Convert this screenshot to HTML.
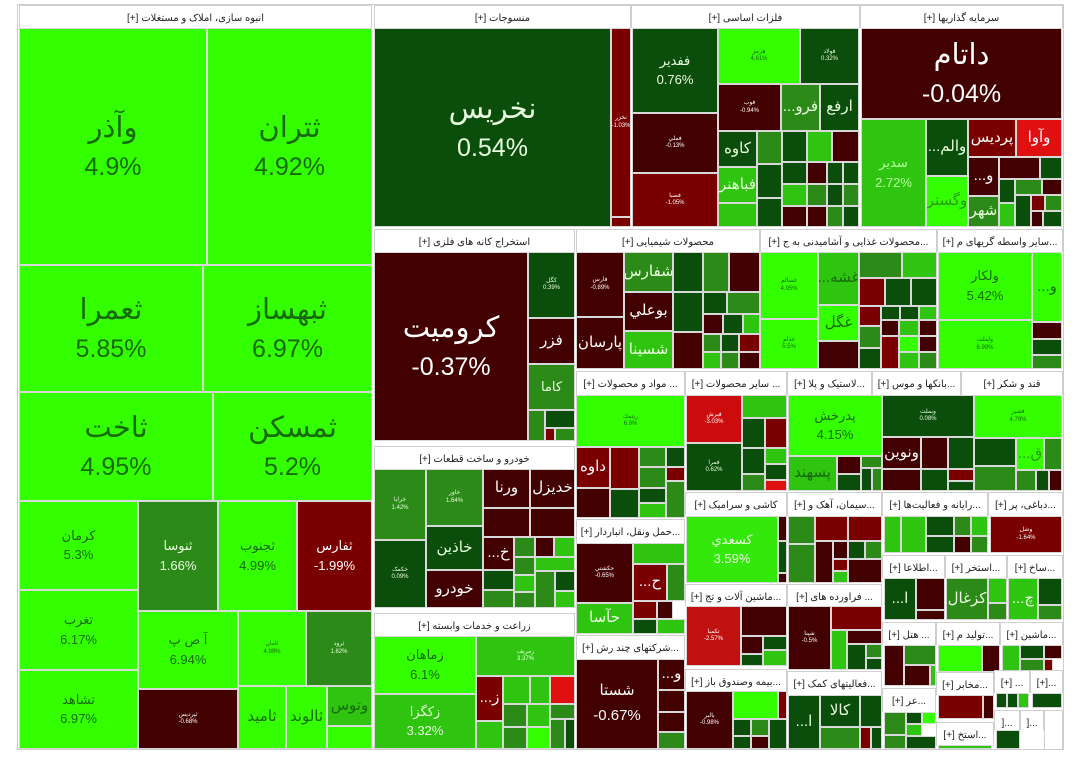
<!DOCTYPE html>
<html><head><meta charset="utf-8"><style>
body{margin:0;width:1080px;height:778px;background:#fff;position:relative;overflow:hidden;font-family:"Liberation Sans","DejaVu Sans",sans-serif}
i,h{position:absolute;box-sizing:border-box;font-style:normal;overflow:hidden}
i{border:1px solid #d8d8d8;display:flex;flex-direction:column;align-items:center;justify-content:center;text-align:center;line-height:1.25}
h{background:#fff;border:1px solid #cfcfcf;border-bottom:none;font-size:10px;color:#222;text-align:center;white-space:nowrap;padding-top:7px;font-weight:normal;direction:rtl}
.b{background:#33ff00;color:#176a0a}
.g{background:#2ec40f;color:#eaffe0}
.m{background:#2b8a18;color:#eaffe0}
.d{background:#0b4d0b;color:#eaffe0}
.x{background:#430000;color:#fff}
.r{background:#7a0000;color:#fff}
.rr{background:#e01010;color:#fff}
.L{font-size:29px}.L b{font-weight:normal;font-size:25px;margin-top:6px}
.M{font-size:13px}.M b{font-weight:normal;font-size:13px;margin-top:3px}
.S{font-size:6px}.S b{font-weight:normal;font-size:6px}
.N{font-size:15px}
</style></head><body>
<div style="position:absolute;left:17px;top:4px;width:1047px;height:746px;border:1px solid #ccc;box-sizing:border-box"></div>

<!-- left sector -->
<h style="left:19px;top:5px;width:353px;height:23px">انبوه سازی، املاک و مستغلات [+]</h>
<i class="b L" style="left:19px;top:28px;width:188px;height:237px">وآذر<b>4.9%</b></i>
<i class="b L" style="left:207px;top:28px;width:165px;height:237px">ثتران<b>4.92%</b></i>
<i class="b L" style="left:19px;top:265px;width:184px;height:127px">ثعمرا<b>5.85%</b></i>
<i class="b L" style="left:203px;top:265px;width:169px;height:127px">ثبهساز<b>6.97%</b></i>
<i class="b L" style="left:19px;top:392px;width:194px;height:109px">ثاخت<b>4.95%</b></i>
<i class="b L" style="left:213px;top:392px;width:159px;height:109px">ثمسکن<b>5.2%</b></i>
<i class="b M" style="left:19px;top:501px;width:119px;height:89px">کرمان<b>5.3%</b></i>
<i class="b M" style="left:19px;top:590px;width:119px;height:80px">تغرب<b>6.17%</b></i>
<i class="b M" style="left:19px;top:670px;width:119px;height:79px">تشاهد<b>6.97%</b></i>
<i class="m M" style="left:138px;top:501px;width:80px;height:110px">ثنوسا<b>1.66%</b></i>
<i class="b M" style="left:218px;top:501px;width:79px;height:110px">ثجنوب<b>4.99%</b></i>
<i class="r M" style="left:297px;top:501px;width:75px;height:110px">ثفارس<b>-1.99%</b></i>
<i class="b M" style="left:138px;top:611px;width:100px;height:78px">آ ص پ<b>6.94%</b></i>
<i class="b S" style="left:238px;top:611px;width:68px;height:75px">ثامان<b>4.99%</b></i>
<i class="m S" style="left:306px;top:611px;width:66px;height:75px">ثرود<b>1.62%</b></i>
<i class="x S" style="left:138px;top:689px;width:100px;height:60px">ثپرديس<b>-0.68%</b></i>
<i class="b N" style="left:238px;top:686px;width:48px;height:63px">ثاميد</i>
<i class="b N" style="left:286px;top:686px;width:41px;height:63px">ثالوند</i>
<i class="g N" style="left:327px;top:686px;width:45px;height:40px;color:#176a0a">وتوس</i>
<i class="b" style="left:327px;top:726px;width:45px;height:23px"></i>

<!-- منسوجات -->
<h style="left:374px;top:5px;width:257px;height:23px">منسوجات [+]</h>
<i class="d L" style="left:374px;top:28px;width:237px;height:199px">نخريس<b>0.54%</b></i>
<i class="r S" style="left:611px;top:28px;width:20px;height:189px">نخزر<b>-1.03%</b></i>
<i class="r" style="left:611px;top:217px;width:20px;height:10px"></i>

<!-- فلزات -->
<h style="left:631px;top:5px;width:229px;height:23px">فلزات اساسی [+]</h>
<i class="d M" style="left:632px;top:28px;width:86px;height:85px">ففدير<b>0.76%</b></i>
<i class="x S" style="left:632px;top:113px;width:86px;height:60px">فملي<b>-0.13%</b></i>
<i class="r S" style="left:632px;top:173px;width:86px;height:54px">فصبا<b>-1.05%</b></i>
<i class="b S" style="left:718px;top:28px;width:82px;height:56px">هرمز<b>4.61%</b></i>
<i class="d S" style="left:800px;top:28px;width:59px;height:56px">فولاد<b>0.32%</b></i>
<i class="x S" style="left:718px;top:84px;width:63px;height:47px">فوب<b>-0.94%</b></i>
<i class="m N" style="left:781px;top:84px;width:39px;height:47px">...فرو</i>
<i class="d N" style="left:820px;top:84px;width:39px;height:47px">ارفع</i>
<i class="d N" style="left:718px;top:131px;width:39px;height:36px">کاوه</i>
<i class="g N" style="left:718px;top:167px;width:39px;height:36px">فباهنر</i>
<i class="g" style="left:718px;top:203px;width:39px;height:24px"></i>
<i class="m" style="left:757px;top:131px;width:25px;height:33px"></i>
<i class="d" style="left:782px;top:131px;width:25px;height:31px"></i>
<i class="g" style="left:807px;top:131px;width:25px;height:31px"></i>
<i class="x" style="left:832px;top:131px;width:27px;height:31px"></i>
<i class="d" style="left:757px;top:164px;width:25px;height:34px"></i>
<i class="d" style="left:757px;top:198px;width:25px;height:29px"></i>
<i class="d" style="left:782px;top:162px;width:25px;height:22px"></i>
<i class="x" style="left:807px;top:162px;width:20px;height:22px"></i>
<i class="d" style="left:827px;top:162px;width:16px;height:22px"></i>
<i class="d" style="left:843px;top:162px;width:16px;height:22px"></i>
<i class="g" style="left:782px;top:184px;width:25px;height:22px"></i>
<i class="x" style="left:782px;top:206px;width:25px;height:21px"></i>
<i class="m" style="left:807px;top:184px;width:20px;height:22px"></i>
<i class="x" style="left:807px;top:206px;width:20px;height:21px"></i>
<i class="d" style="left:827px;top:184px;width:16px;height:22px"></i>
<i class="m" style="left:843px;top:184px;width:16px;height:22px"></i>
<i class="m" style="left:827px;top:206px;width:16px;height:21px"></i>
<i class="d" style="left:843px;top:206px;width:16px;height:21px"></i>

<!-- سرمايه -->
<h style="left:860px;top:5px;width:203px;height:23px">سرمایه گذاریها [+]</h>
<i class="x L" style="left:861px;top:28px;width:201px;height:91px">داتام<b>-0.04%</b></i>
<i class="g M" style="left:861px;top:119px;width:65px;height:108px;color:#b8ffa0">سدير<b>2.72%</b></i>
<i class="d N" style="left:926px;top:119px;width:42px;height:57px">...والم</i>
<i class="b N" style="left:926px;top:176px;width:42px;height:51px;color:#2a9a10">وگستر</i>
<i class="r N" style="left:968px;top:119px;width:48px;height:38px">پرديس</i>
<i class="rr N" style="left:1016px;top:119px;width:46px;height:38px">وآوا</i>
<i class="x N" style="left:968px;top:157px;width:31px;height:39px">...و</i>
<i class="m N" style="left:968px;top:196px;width:31px;height:31px">شهر</i>
<i class="x" style="left:999px;top:157px;width:41px;height:22px"></i>
<i class="d" style="left:1040px;top:157px;width:22px;height:22px"></i>
<i class="d" style="left:999px;top:179px;width:16px;height:24px"></i>
<i class="m" style="left:1015px;top:179px;width:27px;height:16px"></i>
<i class="x" style="left:1042px;top:179px;width:20px;height:16px"></i>
<i class="g" style="left:999px;top:203px;width:16px;height:24px"></i>
<i class="d" style="left:1015px;top:195px;width:16px;height:32px"></i>
<i class="r" style="left:1031px;top:195px;width:14px;height:16px"></i>
<i class="m" style="left:1045px;top:195px;width:17px;height:16px"></i>
<i class="x" style="left:1031px;top:211px;width:12px;height:16px"></i>
<i class="d" style="left:1043px;top:211px;width:19px;height:16px"></i>

<!-- استخراج -->
<h style="left:374px;top:229px;width:201px;height:23px">استخراج کانه های فلزی [+]</h>
<i class="x L" style="left:374px;top:252px;width:154px;height:189px">کرومیت<b>-0.37%</b></i>
<i class="d S" style="left:528px;top:252px;width:47px;height:66px">کگل<b>0.39%</b></i>
<i class="x N" style="left:528px;top:318px;width:47px;height:46px">فزر</i>
<i class="m M" style="left:528px;top:364px;width:47px;height:46px">کاما</i>
<i class="m" style="left:528px;top:410px;width:17px;height:31px"></i>
<i class="d" style="left:545px;top:410px;width:30px;height:18px"></i>
<i class="r" style="left:545px;top:428px;width:10px;height:13px"></i>
<i class="m" style="left:555px;top:428px;width:20px;height:13px"></i>

<!-- خودرو -->
<h style="left:374px;top:446px;width:201px;height:23px">خودرو و ساخت قطعات [+]</h>
<i class="m S" style="left:374px;top:469px;width:52px;height:71px">خرابا<b>1.42%</b></i>
<i class="d S" style="left:374px;top:540px;width:52px;height:68px">خکمک<b>0.09%</b></i>
<i class="m S" style="left:426px;top:469px;width:57px;height:57px">خاور<b>1.64%</b></i>
<i class="d N" style="left:426px;top:526px;width:57px;height:44px">خاذين</i>
<i class="x N" style="left:426px;top:570px;width:57px;height:38px">خودرو</i>
<i class="x N" style="left:483px;top:469px;width:47px;height:39px">ورنا</i>
<i class="x N" style="left:530px;top:469px;width:45px;height:39px">خديزل</i>
<i class="x" style="left:483px;top:508px;width:47px;height:29px"></i>
<i class="x" style="left:530px;top:508px;width:45px;height:29px"></i>
<i class="x N" style="left:483px;top:537px;width:31px;height:33px">...خ</i>
<i class="d" style="left:483px;top:570px;width:31px;height:20px"></i>
<i class="m" style="left:483px;top:590px;width:31px;height:18px"></i>
<i class="m" style="left:514px;top:537px;width:21px;height:20px"></i>
<i class="x" style="left:535px;top:537px;width:19px;height:20px"></i>
<i class="g" style="left:554px;top:537px;width:21px;height:20px"></i>
<i class="m" style="left:514px;top:557px;width:21px;height:18px"></i>
<i class="g" style="left:535px;top:557px;width:40px;height:14px"></i>
<i class="g" style="left:514px;top:575px;width:21px;height:17px"></i>
<i class="m" style="left:535px;top:571px;width:20px;height:37px"></i>
<i class="d" style="left:555px;top:571px;width:20px;height:20px"></i>
<i class="m" style="left:514px;top:592px;width:21px;height:16px"></i>
<i class="g" style="left:555px;top:591px;width:20px;height:17px"></i>

<!-- زراعت -->
<h style="left:374px;top:613px;width:201px;height:23px">زراعت و خدمات وابسته [+]</h>
<i class="b M" style="left:374px;top:636px;width:102px;height:58px">زماهان<b>6.1%</b></i>
<i class="g M" style="left:374px;top:694px;width:102px;height:55px">زکگزا<b>3.32%</b></i>
<i class="g S" style="left:476px;top:636px;width:99px;height:40px">زمريف<b>3.37%</b></i>
<i class="r N" style="left:476px;top:676px;width:27px;height:45px">...ز</i>
<i class="g" style="left:476px;top:721px;width:27px;height:28px"></i>
<i class="g" style="left:503px;top:676px;width:27px;height:28px"></i>
<i class="g" style="left:530px;top:676px;width:20px;height:28px"></i>
<i class="rr" style="left:550px;top:676px;width:25px;height:28px"></i>
<i class="m" style="left:503px;top:704px;width:24px;height:23px"></i>
<i class="g" style="left:527px;top:704px;width:23px;height:23px"></i>
<i class="m" style="left:550px;top:704px;width:25px;height:15px"></i>
<i class="m" style="left:503px;top:727px;width:24px;height:22px"></i>
<i class="b" style="left:527px;top:727px;width:23px;height:22px"></i>
<i class="m" style="left:550px;top:719px;width:15px;height:30px"></i>
<i class="d" style="left:565px;top:719px;width:10px;height:30px"></i>

<!-- شيميايي -->
<h style="left:576px;top:229px;width:184px;height:23px">محصولات شیمیایی [+]</h>
<i class="x S" style="left:576px;top:252px;width:48px;height:65px">فارس<b>-0.89%</b></i>
<i class="x N" style="left:576px;top:317px;width:48px;height:52px">پارسان</i>
<i class="m N" style="left:624px;top:252px;width:49px;height:40px">شفارس</i>
<i class="x N" style="left:624px;top:292px;width:49px;height:39px">بوعلي</i>
<i class="g N" style="left:624px;top:331px;width:49px;height:38px">شسينا</i>
<i class="d" style="left:673px;top:252px;width:30px;height:40px"></i>
<i class="m" style="left:703px;top:252px;width:26px;height:40px"></i>
<i class="x" style="left:729px;top:252px;width:31px;height:40px"></i>
<i class="d" style="left:673px;top:292px;width:30px;height:40px"></i>
<i class="d" style="left:703px;top:292px;width:24px;height:22px"></i>
<i class="m" style="left:727px;top:292px;width:33px;height:22px"></i>
<i class="x" style="left:673px;top:332px;width:30px;height:37px"></i>
<i class="x" style="left:703px;top:314px;width:20px;height:20px"></i>
<i class="d" style="left:723px;top:314px;width:20px;height:20px"></i>
<i class="g" style="left:743px;top:314px;width:17px;height:20px"></i>
<i class="m" style="left:703px;top:334px;width:18px;height:18px"></i>
<i class="d" style="left:721px;top:334px;width:18px;height:18px"></i>
<i class="r" style="left:739px;top:334px;width:21px;height:18px"></i>
<i class="g" style="left:703px;top:352px;width:18px;height:17px"></i>
<i class="m" style="left:721px;top:352px;width:18px;height:17px"></i>
<i class="x" style="left:739px;top:352px;width:21px;height:17px"></i>

<!-- غذايي -->
<h style="left:760px;top:229px;width:177px;height:23px">...محصولات غذایی و آشامیدنی به ج [+]</h>
<i class="b S" style="left:760px;top:252px;width:58px;height:67px">غسالم<b>4.95%</b></i>
<i class="b S" style="left:760px;top:319px;width:58px;height:50px">غدام<b>5.5%</b></i>
<i class="g N" style="left:818px;top:252px;width:41px;height:53px;color:#176a0a">...غشه</i>
<i class="b N" style="left:818px;top:305px;width:41px;height:36px">غگل</i>
<i class="x" style="left:818px;top:341px;width:41px;height:28px"></i>
<i class="m" style="left:859px;top:252px;width:43px;height:26px"></i>
<i class="g" style="left:902px;top:252px;width:35px;height:26px"></i>
<i class="r" style="left:859px;top:278px;width:26px;height:28px"></i>
<i class="d" style="left:885px;top:278px;width:26px;height:28px"></i>
<i class="d" style="left:911px;top:278px;width:26px;height:28px"></i>
<i class="r" style="left:859px;top:306px;width:22px;height:20px"></i>
<i class="d" style="left:881px;top:306px;width:19px;height:14px"></i>
<i class="d" style="left:900px;top:306px;width:19px;height:14px"></i>
<i class="g" style="left:919px;top:306px;width:18px;height:14px"></i>
<i class="m" style="left:859px;top:326px;width:22px;height:22px"></i>
<i class="x" style="left:881px;top:320px;width:18px;height:16px"></i>
<i class="g" style="left:899px;top:320px;width:20px;height:16px"></i>
<i class="x" style="left:919px;top:320px;width:18px;height:16px"></i>
<i class="d" style="left:859px;top:348px;width:22px;height:21px"></i>
<i class="r" style="left:881px;top:336px;width:18px;height:33px"></i>
<i class="b" style="left:899px;top:336px;width:20px;height:16px"></i>
<i class="g" style="left:899px;top:352px;width:20px;height:17px"></i>
<i class="x" style="left:919px;top:336px;width:18px;height:16px"></i>
<i class="m" style="left:919px;top:352px;width:18px;height:17px"></i>

<!-- ساير واسطه -->
<h style="left:937px;top:229px;width:126px;height:23px">...سایر واسطه گریهای م [+]</h>
<i class="b M" style="left:938px;top:252px;width:94px;height:68px">ولکار<b>5.42%</b></i>
<i class="b S" style="left:938px;top:320px;width:94px;height:49px">ولملت<b>6.99%</b></i>
<i class="b N" style="left:1032px;top:252px;width:30px;height:70px">...و</i>
<i class="x" style="left:1032px;top:322px;width:30px;height:17px"></i>
<i class="d" style="left:1032px;top:339px;width:30px;height:16px"></i>
<i class="m" style="left:1032px;top:355px;width:30px;height:14px"></i>

<!-- row 3 -->
<h style="left:576px;top:371px;width:109px;height:24px">... مواد و محصولات [+]</h>
<i class="b S" style="left:576px;top:395px;width:109px;height:52px">ريتمك<b>6.9%</b></i>
<i class="r N" style="left:576px;top:447px;width:34px;height:41px">داوه</i>
<i class="x" style="left:576px;top:488px;width:34px;height:30px"></i>
<i class="r" style="left:610px;top:447px;width:29px;height:42px"></i>
<i class="d" style="left:610px;top:489px;width:29px;height:29px"></i>
<i class="m" style="left:639px;top:447px;width:27px;height:20px"></i>
<i class="d" style="left:666px;top:447px;width:19px;height:20px"></i>
<i class="m" style="left:639px;top:467px;width:27px;height:21px"></i>
<i class="d" style="left:639px;top:488px;width:27px;height:15px"></i>
<i class="r" style="left:666px;top:467px;width:19px;height:14px"></i>
<i class="m" style="left:666px;top:481px;width:19px;height:37px"></i>
<i class="g" style="left:639px;top:503px;width:27px;height:15px"></i>

<h style="left:685px;top:371px;width:102px;height:24px">... سایر محصولات [+]</h>
<i class="rr S" style="left:686px;top:395px;width:56px;height:48px;background:#cc0c0c">فبرش<b>-3.03%</b></i>
<i class="d S" style="left:686px;top:443px;width:56px;height:48px">فمرا<b>0.62%</b></i>
<i class="g" style="left:742px;top:395px;width:45px;height:23px"></i>
<i class="d" style="left:742px;top:418px;width:23px;height:30px"></i>
<i class="r" style="left:765px;top:418px;width:22px;height:30px"></i>
<i class="d" style="left:742px;top:448px;width:23px;height:26px"></i>
<i class="g" style="left:765px;top:448px;width:22px;height:16px"></i>
<i class="m" style="left:742px;top:474px;width:23px;height:17px"></i>
<i class="d" style="left:765px;top:464px;width:22px;height:16px"></i>
<i class="rr" style="left:765px;top:480px;width:22px;height:11px"></i>

<h style="left:787px;top:371px;width:85px;height:24px">...لاستیک و پلا [+]</h>
<i class="b M" style="left:788px;top:395px;width:94px;height:61px">پدرخش<b>4.15%</b></i>
<i class="g N" style="left:788px;top:456px;width:49px;height:35px;color:#176a0a">پسهند</i>
<i class="x" style="left:837px;top:456px;width:24px;height:18px"></i>
<i class="m" style="left:861px;top:456px;width:21px;height:12px"></i>
<i class="d" style="left:837px;top:474px;width:24px;height:17px"></i>
<i class="d" style="left:861px;top:468px;width:11px;height:23px"></i>
<i class="m" style="left:872px;top:468px;width:10px;height:23px"></i>

<h style="left:872px;top:371px;width:89px;height:24px">...بانکها و موس [+]</h>
<i class="d S" style="left:882px;top:395px;width:92px;height:42px">وبملت<b>0.08%</b></i>
<i class="x N" style="left:882px;top:437px;width:39px;height:32px">ونوين</i>
<i class="x" style="left:921px;top:437px;width:27px;height:32px"></i>
<i class="d" style="left:948px;top:437px;width:26px;height:32px"></i>
<i class="x" style="left:882px;top:469px;width:39px;height:22px"></i>
<i class="d" style="left:921px;top:469px;width:27px;height:22px"></i>
<i class="r" style="left:948px;top:469px;width:26px;height:12px"></i>
<i class="d" style="left:948px;top:481px;width:26px;height:10px"></i>

<h style="left:961px;top:371px;width:102px;height:24px">قند و شکر [+]</h>
<i class="b S" style="left:974px;top:395px;width:88px;height:43px">قشير<b>4.79%</b></i>
<i class="d" style="left:974px;top:438px;width:42px;height:28px"></i>
<i class="b N" style="left:1016px;top:438px;width:28px;height:32px;color:#2a9a10">...ق</i>
<i class="m" style="left:1044px;top:438px;width:18px;height:32px"></i>
<i class="m" style="left:974px;top:466px;width:42px;height:25px"></i>
<i class="m" style="left:1016px;top:470px;width:20px;height:21px"></i>
<i class="d" style="left:1036px;top:470px;width:13px;height:21px"></i>
<i class="x" style="left:1049px;top:470px;width:13px;height:21px"></i>

<!-- حمل -->
<h style="left:576px;top:519px;width:109px;height:24px">...حمل ونقل، انباردار [+]</h>
<i class="x S" style="left:576px;top:543px;width:57px;height:60px">حكشتي<b>-0.65%</b></i>
<i class="g N" style="left:576px;top:603px;width:57px;height:31px">حآسا</i>
<i class="g" style="left:633px;top:543px;width:52px;height:21px"></i>
<i class="r N" style="left:633px;top:564px;width:34px;height:37px">...ح</i>
<i class="m" style="left:667px;top:564px;width:18px;height:37px"></i>
<i class="r" style="left:633px;top:601px;width:24px;height:18px"></i>
<i class="x" style="left:657px;top:601px;width:16px;height:18px"></i>
<i class="d" style="left:633px;top:619px;width:24px;height:15px"></i>
<i class="g" style="left:657px;top:619px;width:28px;height:15px"></i>

<h style="left:576px;top:635px;width:109px;height:24px">...شرکتهای چند رش [+]</h>
<i class="x L" style="left:576px;top:659px;width:82px;height:90px;font-size:15px">شستا<b style="font-size:15px">-0.67%</b></i>
<i class="x N" style="left:658px;top:659px;width:27px;height:31px">...و</i>
<i class="x" style="left:658px;top:690px;width:27px;height:22px"></i>
<i class="x" style="left:658px;top:712px;width:27px;height:20px"></i>
<i class="m" style="left:658px;top:732px;width:27px;height:17px"></i>

<h style="left:685px;top:492px;width:102px;height:24px">کاشی و سرامیک [+]</h>
<i class="g M" style="left:686px;top:516px;width:92px;height:67px;background:#33e80a">کسعدي<b>3.59%</b></i>
<i class="x" style="left:778px;top:516px;width:9px;height:25px"></i>
<i class="d" style="left:778px;top:541px;width:9px;height:32px"></i>
<i class="x" style="left:778px;top:573px;width:9px;height:10px"></i>

<h style="left:685px;top:584px;width:102px;height:22px">...ماشین آلات و تج [+]</h>
<i class="rr S" style="left:686px;top:606px;width:55px;height:60px;background:#c01010">تكمبا<b>-2.57%</b></i>
<i class="x" style="left:741px;top:606px;width:46px;height:30px"></i>
<i class="x" style="left:741px;top:636px;width:22px;height:18px"></i>
<i class="d" style="left:763px;top:636px;width:24px;height:14px"></i>
<i class="g" style="left:763px;top:650px;width:24px;height:16px"></i>
<i class="d" style="left:741px;top:654px;width:22px;height:12px"></i>

<h style="left:685px;top:669px;width:102px;height:22px">...بیمه وصندوق باز [+]</h>
<i class="x S" style="left:686px;top:691px;width:47px;height:58px">بالبر<b>-0.98%</b></i>
<i class="b" style="left:733px;top:691px;width:45px;height:28px"></i>
<i class="r" style="left:778px;top:691px;width:9px;height:28px"></i>
<i class="d" style="left:733px;top:719px;width:18px;height:17px"></i>
<i class="m" style="left:751px;top:719px;width:18px;height:17px"></i>
<i class="d" style="left:733px;top:736px;width:18px;height:13px"></i>
<i class="x" style="left:751px;top:736px;width:18px;height:13px"></i>
<i class="d" style="left:769px;top:719px;width:18px;height:30px"></i>

<h style="left:787px;top:492px;width:95px;height:24px">...سیمان، آهک و [+]</h>
<i class="m" style="left:788px;top:516px;width:27px;height:28px"></i>
<i class="m" style="left:788px;top:544px;width:27px;height:39px"></i>
<i class="r" style="left:815px;top:516px;width:33px;height:25px"></i>
<i class="r" style="left:848px;top:516px;width:34px;height:25px"></i>
<i class="x" style="left:815px;top:541px;width:18px;height:42px"></i>
<i class="x" style="left:833px;top:541px;width:15px;height:18px"></i>
<i class="d" style="left:848px;top:541px;width:17px;height:18px"></i>
<i class="m" style="left:865px;top:541px;width:17px;height:18px"></i>
<i class="r" style="left:833px;top:559px;width:15px;height:12px"></i>
<i class="x" style="left:848px;top:559px;width:34px;height:24px"></i>
<i class="g" style="left:833px;top:571px;width:15px;height:12px"></i>

<h style="left:787px;top:584px;width:95px;height:22px">... فراورده های [+]</h>
<i class="x S" style="left:788px;top:606px;width:43px;height:64px">شپنا<b>-0.5%</b></i>
<i class="r" style="left:831px;top:606px;width:51px;height:24px"></i>
<i class="g" style="left:831px;top:630px;width:16px;height:40px"></i>
<i class="x" style="left:847px;top:630px;width:35px;height:14px"></i>
<i class="d" style="left:847px;top:644px;width:19px;height:26px"></i>
<i class="m" style="left:866px;top:644px;width:16px;height:14px"></i>
<i class="d" style="left:866px;top:658px;width:16px;height:12px"></i>

<h style="left:787px;top:671px;width:95px;height:24px">...فعالیتهای کمک [+]</h>
<i class="d N" style="left:788px;top:695px;width:32px;height:54px">...ا</i>
<i class="d N" style="left:820px;top:695px;width:40px;height:32px">کالا</i>
<i class="d" style="left:860px;top:695px;width:22px;height:32px"></i>
<i class="m" style="left:820px;top:727px;width:40px;height:22px"></i>
<i class="r" style="left:860px;top:727px;width:11px;height:22px"></i>
<i class="d" style="left:871px;top:727px;width:11px;height:22px"></i>

<h style="left:882px;top:492px;width:106px;height:24px">...رایانه و فعالیت‌ها [+]</h>
<i class="g" style="left:884px;top:516px;width:17px;height:37px"></i>
<i class="g" style="left:901px;top:516px;width:25px;height:37px"></i>
<i class="d" style="left:926px;top:516px;width:28px;height:20px"></i>
<i class="m" style="left:954px;top:516px;width:17px;height:20px"></i>
<i class="g" style="left:971px;top:516px;width:17px;height:20px"></i>
<i class="d" style="left:926px;top:536px;width:28px;height:17px"></i>
<i class="x" style="left:954px;top:536px;width:17px;height:17px"></i>
<i class="m" style="left:971px;top:536px;width:17px;height:17px"></i>

<h style="left:988px;top:492px;width:75px;height:24px">...دباغی، پر [+]</h>
<i class="r S" style="left:990px;top:516px;width:72px;height:37px">وشل<b>-1.64%</b></i>

<h style="left:882px;top:555px;width:63px;height:23px">...اطلاعا [+]</h>
<i class="d N" style="left:884px;top:578px;width:32px;height:42px">...ا</i>
<i class="x" style="left:916px;top:578px;width:29px;height:32px"></i>
<i class="x" style="left:916px;top:610px;width:29px;height:10px"></i>
<h style="left:945px;top:555px;width:62px;height:23px">...استخر [+]</h>
<i class="m N" style="left:946px;top:578px;width:42px;height:42px">کزغال</i>
<i class="g" style="left:988px;top:578px;width:19px;height:25px"></i>
<i class="m" style="left:988px;top:603px;width:19px;height:17px"></i>
<h style="left:1007px;top:555px;width:56px;height:23px">...ساخ [+]</h>
<i class="g N" style="left:1008px;top:578px;width:30px;height:42px">...چ</i>
<i class="d" style="left:1038px;top:578px;width:24px;height:27px"></i>
<i class="m" style="left:1038px;top:605px;width:24px;height:15px"></i>

<h style="left:882px;top:622px;width:54px;height:23px">... هتل [+]</h>
<i class="x" style="left:884px;top:645px;width:20px;height:41px"></i>
<i class="m" style="left:904px;top:645px;width:32px;height:20px"></i>
<i class="x" style="left:904px;top:665px;width:26px;height:21px"></i>
<i class="g" style="left:930px;top:665px;width:6px;height:21px"></i>
<h style="left:936px;top:622px;width:64px;height:23px">...تولید م [+]</h>
<i class="b" style="left:938px;top:645px;width:44px;height:27px"></i>
<i class="x" style="left:982px;top:645px;width:18px;height:27px"></i>
<h style="left:1000px;top:622px;width:63px;height:23px">...ماشین [+]</h>
<i class="g" style="left:1002px;top:645px;width:18px;height:27px"></i>
<i class="d" style="left:1020px;top:645px;width:24px;height:14px"></i>
<i class="x" style="left:1044px;top:645px;width:18px;height:14px"></i>
<i class="m" style="left:1020px;top:659px;width:24px;height:13px"></i>
<i class="r" style="left:1044px;top:659px;width:9px;height:13px"></i>

<h style="left:882px;top:688px;width:54px;height:24px">...عر [+]</h>
<i class="m" style="left:884px;top:712px;width:22px;height:23px"></i>
<i class="d" style="left:906px;top:712px;width:16px;height:12px"></i>
<i class="b" style="left:922px;top:712px;width:14px;height:12px"></i>
<i class="m" style="left:884px;top:735px;width:22px;height:14px"></i>
<i class="g" style="left:906px;top:724px;width:16px;height:12px"></i>
<i class="d" style="left:906px;top:736px;width:30px;height:13px"></i>
<h style="left:936px;top:672px;width:58px;height:23px">...مخابر [+]</h>
<i class="r" style="left:938px;top:695px;width:45px;height:24px"></i>
<i class="x" style="left:983px;top:695px;width:11px;height:24px"></i>
<h style="left:936px;top:722px;width:58px;height:24px">...استخ [+]</h>
<i class="g" style="left:938px;top:745px;width:54px;height:4px"></i>
<h style="left:994px;top:670px;width:36px;height:23px">... [+]</h>
<i class="d" style="left:996px;top:693px;width:11px;height:15px"></i>
<i class="d" style="left:1007px;top:693px;width:11px;height:15px"></i>
<i class="g" style="left:1018px;top:693px;width:11px;height:15px"></i>
<h style="left:1030px;top:670px;width:33px;height:23px">...[+]</h>
<i class="d" style="left:1032px;top:693px;width:30px;height:15px"></i>
<h style="left:994px;top:710px;width:26px;height:20px">...[</h>
<i class="d" style="left:996px;top:730px;width:24px;height:19px"></i>
<h style="left:1020px;top:710px;width:24px;height:20px">...[</h>
<h style="left:1044px;top:710px;width:19px;height:39px"></h>
</body></html>
